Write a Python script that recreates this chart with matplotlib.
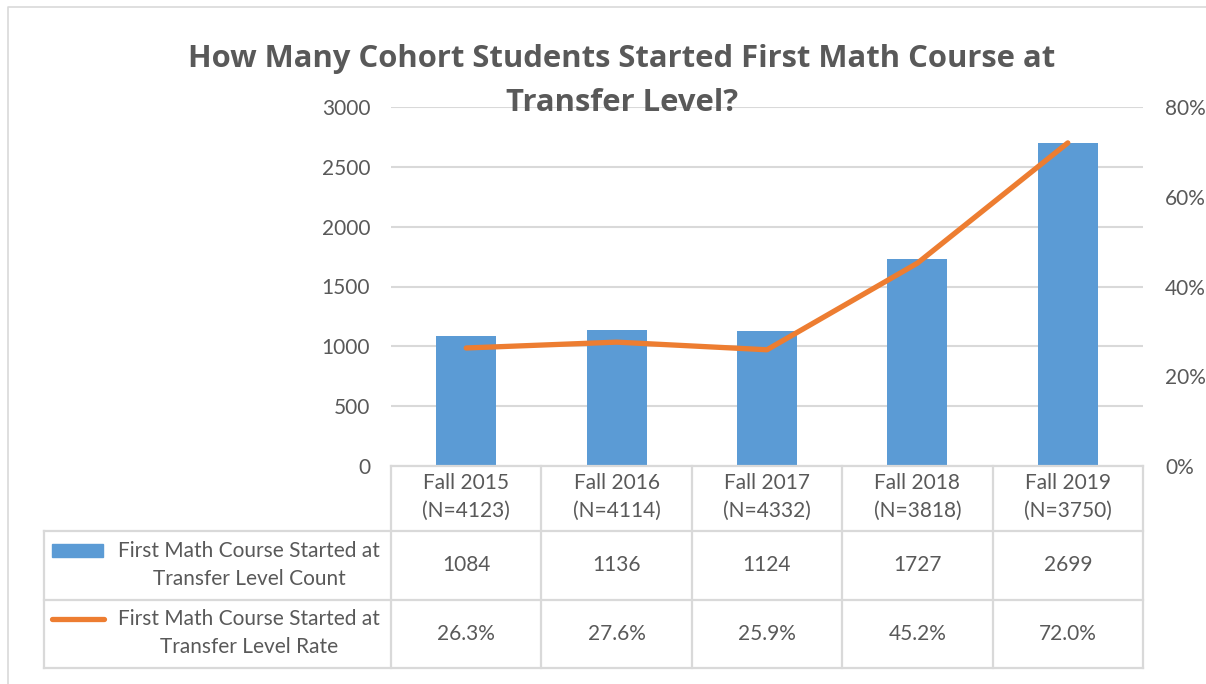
import matplotlib
matplotlib.use('Agg')
import matplotlib.pyplot as plt
from matplotlib.lines import Line2D
from matplotlib.patches import Rectangle
import numpy as np

# data
categories = ['Fall 2015\n(N=4123)', 'Fall 2016\n(N=4114)', 'Fall 2017\n(N=4332)',
              'Fall 2018\n(N=3818)', 'Fall 2019\n(N=3750)']
counts = [1084, 1136, 1124, 1727, 2699]
rates = [26.3, 27.6, 25.9, 45.2, 72.0]
count_label = 'First Math Course Started at\nTransfer Level Count'
rate_label = 'First Math Course Started at\nTransfer Level Rate'
title = 'How Many Cohort Students Started First Math Course at\nTransfer Level?'

W, H = 1206, 684
bar_color = '#5B9BD5'
line_color = '#ED7D31'
grid_color = '#D9D9D9'
text_color = '#595959'
fs = 15

plt.rcParams['font.family'] = ['Lato', 'DejaVu Sans']

fig = plt.figure(figsize=(W / 100, H / 100), dpi=100)


def fx(px):
    return px / W


def fy(py):
    return 1 - py / H


# plot area in pixel coords
x0, x1 = 391, 1143
ytop, ybot = 107, 466

ax = fig.add_axes([fx(x0), fy(ybot), fx(x1 - x0), (ybot - ytop) / H])
n = len(counts)
xs = np.arange(n)
ax.bar(xs, counts, width=0.4, color=bar_color, zorder=2)
ax.set_xlim(-0.5, n - 0.5)
ax.set_ylim(0, 3000)
ax.set_yticks(range(0, 3001, 500))
ax.yaxis.grid(True, color=grid_color, lw=1.5, zorder=0)
ax.set_axisbelow(True)
ax.set_xticks([])
for s in ax.spines.values():
    s.set_visible(False)
ax.tick_params(axis='y', length=0, pad=15, labelsize=fs, labelcolor=text_color)

ax2 = ax.twinx()
ax2.plot(xs, rates, color=line_color, lw=3.8, solid_capstyle='round', zorder=3)
ax2.set_ylim(0, 80)
ax2.set_yticks(range(0, 81, 20))
ax2.set_yticklabels([f'{v}%' for v in range(0, 81, 20)])
for s in ax2.spines.values():
    s.set_visible(False)
ax2.tick_params(axis='y', length=0, pad=16, labelsize=fs, labelcolor=text_color)

# title
tlines = title.split('\n')
fig.text(fx(622), fy(59), tlines[0], ha='center', va='center', family=['Open Sans', 'DejaVu Sans'],
         fontsize=22.3, fontweight='bold', color=text_color)
fig.text(fx(622), fy(103), tlines[1], ha='center', va='center', family=['Open Sans', 'DejaVu Sans'],
         fontsize=22.3, fontweight='bold', color=text_color)

# data table
col_w = (x1 - x0) / n
rows_y = [466, 531, 600, 668]
lw_tab = 1.6


def hline(xa, xb, y):
    fig.add_artist(Line2D([fx(xa), fx(xb)], [fy(y), fy(y)], color=grid_color, lw=lw_tab))


def vline(x, ya, yb):
    fig.add_artist(Line2D([fx(x), fx(x)], [fy(ya), fy(yb)], color=grid_color, lw=lw_tab))


hline(x0, x1, rows_y[0])
for y in rows_y[1:]:
    hline(44, x1, y)
for i in range(n + 1):
    vline(x0 + i * col_w, rows_y[0], rows_y[3])
vline(44, rows_y[1], rows_y[3])

for i in range(n):
    cx = x0 + (i + 0.5) * col_w
    fig.text(fx(cx), fy(497), categories[i], ha='center', va='center',
             fontsize=fs, color=text_color, linespacing=1.5)
    fig.text(fx(cx), fy(565), f'{counts[i]}', ha='center', va='center',
             fontsize=fs, color=text_color)
    fig.text(fx(cx), fy(634), f'{rates[i]:.1f}%', ha='center', va='center',
             fontsize=fs, color=text_color)

# row labels with legend keys
fig.text(fx(249), fy(565), count_label, ha='center', va='center', fontsize=fs,
         color=text_color, linespacing=1.55)
fig.text(fx(249), fy(633), rate_label, ha='center', va='center', fontsize=fs,
         color=text_color, linespacing=1.55)
fig.add_artist(Rectangle((fx(52), fy(557)), fx(51), 13 / H, color=bar_color))
fig.add_artist(Line2D([fx(52), fx(104)], [fy(619), fy(619)], color=line_color, lw=3.8,
                      solid_capstyle='round'))

# chart border
fig.add_artist(Line2D([fx(8), fx(8), fx(1206)], [fy(684), fy(7), fy(7)], color=grid_color, lw=1.2))

fig.savefig('out.png', dpi=100)
